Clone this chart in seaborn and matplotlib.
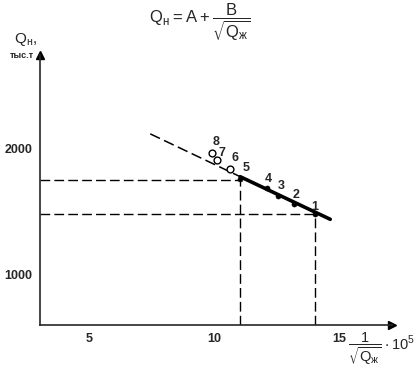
"""Oil output vs 1/sqrt(liquid output) - straight-line fit."""

import matplotlib
matplotlib.use("Agg")
import matplotlib.pyplot as plt
import seaborn as sns
import pandas as pd
from matplotlib import font_manager

# points (x = 1/sqrt(Qж) * 10^5, y = Qн, thousand t)
point_labels = ['1', '2', '3', '4', '5', '6', '7', '8']
point_x = [14.05, 13.2, 12.55, 12.1, 11.05, 10.65, 10.1, 9.9]
point_y = [1485, 1565, 1625, 1690, 1760, 1840, 1910, 1965]
point_kind = ['fit', 'fit', 'fit', 'fit', 'fit', 'extra', 'extra', 'extra']

# fitted line: dashed extrapolation and solid part
dash_x = [7.45, 11.05]
dash_y = [2120, 1780]
solid_x = [11.05, 14.65]
solid_y = [1780, 1442]

# guide lines from points 5 and 1
guide_x = [11.05, 14.05]
guide_y = [1755, 1485]

x_ticks = [5, 10, 15]
y_ticks = [1000, 2000]

# label offsets (pixels) relative to each point
label_dx = [0, 2, 4, 2, 6, 5, 5, 5]
label_dy = [1, 3, 4, 3, 5, 5, 1, 5]

sns.set_style("white")
available = {f.name for f in font_manager.fontManager.ttflist}
main_font = 'Liberation Sans Narrow' if 'Liberation Sans Narrow' in available else 'Liberation Sans'
plt.rcParams['font.family'] = [main_font, 'DejaVu Sans']
plt.rcParams['mathtext.fontset'] = 'dejavusans'

fig = plt.figure(figsize=(4.19, 3.81), dpi=100)
ax = fig.add_axes([40 / 419, 56 / 381, 352 / 419, 270 / 381])

x_min, x_max = 3.04, 17.12
y_min, y_max = 603, 2746

points = pd.DataFrame({'x': point_x, 'y': point_y, 'kind': point_kind, 'label': point_labels})

# guide lines
dash_style = (0, (7, 3))
for gx, gy in zip(guide_x, guide_y):
    ax.plot([x_min, gx], [gy, gy], color='black', lw=1.0, linestyle=dash_style)
    ax.plot([gx, gx], [y_min, gy], color='black', lw=1.0, linestyle=dash_style)

sns.lineplot(x=dash_x, y=dash_y, ax=ax, color='black', lw=1.1, linestyle=dash_style)
sns.lineplot(x=solid_x, y=solid_y, ax=ax, color='black', lw=2.6)

fit_pts = points[points['kind'] == 'fit']
extra_pts = points[points['kind'] == 'extra']
sns.scatterplot(data=fit_pts, x='x', y='y', ax=ax, color='black', s=14,
                edgecolor='black', zorder=5)
sns.scatterplot(data=extra_pts, x='x', y='y', ax=ax, facecolor='white', s=24,
                edgecolor='black', linewidth=1.0, zorder=5)

px_to_pt = 72 / fig.dpi
for i, row in points.iterrows():
    ax.annotate(row['label'], (row['x'], row['y']),
                xytext=(label_dx[i] * px_to_pt, label_dy[i] * px_to_pt),
                textcoords='offset points', fontsize=9, fontweight='bold',
                ha='center', va='bottom')

ax.set_xlim(x_min, x_max)
ax.set_ylim(y_min, y_max)
ax.set_xticks(x_ticks)
ax.set_yticks(y_ticks)
ax.set_xticklabels([str(t) for t in x_ticks], fontsize=9, fontweight='bold')
ax.set_yticklabels([str(t) for t in y_ticks], fontsize=9, fontweight='bold')
ax.tick_params(direction='inout', length=5, width=1.0, pad=3)
ax.set_xlabel('')
ax.set_ylabel('')

for side in ['top', 'right']:
    ax.spines[side].set_visible(False)
for side in ['left', 'bottom']:
    ax.spines[side].set_linewidth(1.2)

# axis arrows
ax.plot(1, 0, marker='>', color='black', markersize=6, transform=ax.transAxes, clip_on=False)
ax.plot(0, 1, marker='^', color='black', markersize=6, transform=ax.transAxes, clip_on=False)

# formula title
fig.text(200 / 419, 1 - 22 / 381, r'$\mathregular{Q_н = A + \dfrac{B}{\sqrt{Q_ж}}}$',
         ha='center', va='center', fontsize=12)

# axis labels
fig.text(26 / 419, 1 - 39 / 381, r'$\mathregular{Q_н,}$', ha='center', va='center', fontsize=11)
fig.text(22 / 419, 1 - 56 / 381, 'тыс.т', ha='center', va='center', fontsize=6.5, fontweight='bold')
fig.text(382 / 419, 1 - 349 / 381, r'$\mathregular{\dfrac{1}{\sqrt{Q_ж}}\cdot 10^5}$',
         ha='center', va='center', fontsize=10.5)

fig.savefig('out.png', dpi=100)
